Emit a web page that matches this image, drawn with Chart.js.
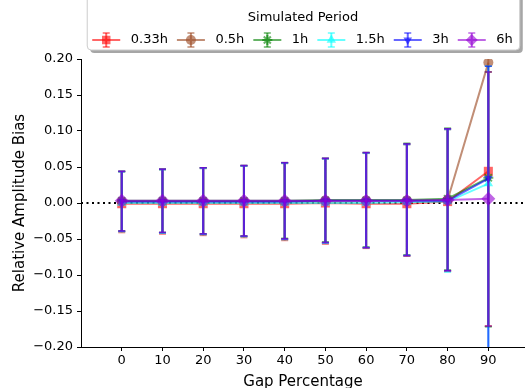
<!DOCTYPE html>
<html>
<head>
<meta charset="utf-8">
<script src="https://cdn.jsdelivr.net/npm/chart.js@4/dist/chart.umd.min.js"></script>
<style>
  html, body { margin: 0; padding: 0; background: #fff; }
</style>
</head>
<body>
<canvas id="chart" width="525" height="388"></canvas>
<script>
const gaps = [0, 10, 20, 30, 40, 50, 60, 70, 80, 90];
const periods = ['0.33h', '0.5h', '1h', '1.5h', '3h', '6h'];
const yTicks = [-0.2, -0.15, -0.1, -0.05, 0, 0.05, 0.1, 0.15, 0.2];

// mean bias per gap percentage
const bias033 = [-0.001, -0.001, -0.001, -0.001, -0.001, 0.000, -0.001, -0.001, 0.002, 0.044];
const bias05  = [0.002, 0.002, 0.002, 0.002, 0.002, 0.003, 0.003, 0.003, 0.004, 0.195];
const bias1   = [0.003, 0.003, 0.003, 0.003, 0.003, 0.004, 0.004, 0.004, 0.006, 0.035];
const bias15  = [0.000, 0.000, 0.000, 0.000, 0.000, 0.000, 0.000, 0.001, 0.002, 0.027];
const bias3   = [0.002, 0.002, 0.002, 0.002, 0.002, 0.003, 0.003, 0.003, 0.003, 0.034];
const bias6   = [0.003, 0.003, 0.003, 0.003, 0.003, 0.003, 0.003, 0.003, 0.004, 0.006];

// error bar ends (lower / upper)
const low033  = [-0.041, -0.043, -0.045, -0.048, -0.052, -0.057, -0.063, -0.074, -0.095, -0.171];
const high033 = [0.043, 0.046, 0.048, 0.051, 0.055, 0.061, 0.069, 0.081, 0.102, 0.182];
const low05   = [-0.039, -0.041, -0.043, -0.046, -0.050, -0.055, -0.062, -0.073, -0.094, -0.171];
const high05  = [0.044, 0.047, 0.049, 0.052, 0.056, 0.062, 0.070, 0.082, 0.103, 0.210];
const low1    = [-0.039, -0.041, -0.043, -0.046, -0.049, -0.054, -0.061, -0.072, -0.093, -0.172];
const high1   = [0.044, 0.047, 0.049, 0.052, 0.056, 0.062, 0.070, 0.083, 0.104, 0.182];
const low15   = [-0.040, -0.042, -0.044, -0.047, -0.051, -0.056, -0.062, -0.073, -0.096, -0.250];
const high15  = [0.043, 0.046, 0.048, 0.051, 0.055, 0.061, 0.069, 0.081, 0.102, 0.190];
const low3    = [-0.039, -0.041, -0.043, -0.046, -0.050, -0.055, -0.062, -0.073, -0.094, -0.260];
const high3   = [0.044, 0.047, 0.049, 0.052, 0.056, 0.062, 0.070, 0.082, 0.103, 0.190];
const low6    = [-0.039, -0.041, -0.043, -0.046, -0.050, -0.055, -0.062, -0.073, -0.094, -0.171];
const high6   = [0.044, 0.047, 0.049, 0.052, 0.056, 0.062, 0.070, 0.082, 0.103, 0.182];

const series = [
    { bias: bias033, low: low033, high: high033 },
    { bias: bias05,  low: low05,  high: high05 },
    { bias: bias1,   low: low1,   high: high1 },
    { bias: bias15,  low: low15,  high: high15 },
    { bias: bias3,   low: low3,   high: high3 },
    { bias: bias6,   low: low6,   high: high6 }
];

const styles = [
    { color: 'rgba(255, 0, 0, 0.6)',     marker: 'rect',     radius: 6.4, rotation: 0,   bw: 0 },
    { color: 'rgba(160, 82, 45, 0.65)',  marker: 'circle',   radius: 5,   rotation: 0,   bw: 0 },
    { color: 'rgba(0, 128, 0, 0.6)',     marker: 'star',     radius: 5,   rotation: 0,   bw: 2 },
    { color: 'rgba(0, 255, 255, 0.6)',   marker: 'triangle', radius: 5.5, rotation: 0,   bw: 0 },
    { color: 'rgba(0, 0, 255, 0.6)',     marker: 'triangle', radius: 5,   rotation: 180, bw: 0 },
    { color: 'rgba(148, 0, 211, 0.6)',   marker: 'rectRot',  radius: 7,   rotation: 0,   bw: 0 }
];

const X_MIN = -10, X_MAX = 99;

Chart.defaults.font.family = '"DejaVu Sans", sans-serif';
Chart.defaults.font.size = 13;
Chart.defaults.color = '#000';

const datasets = [];
series.forEach((s, i) => {
    const st = styles[i];
    const top = (series.length - 1 - i) * 2; // later series drawn above
    datasets.push({
        label: periods[i],
        isSeries: true,
        styleIndex: i,
        data: gaps.map((g, k) => ({ x: g, y: s.bias[k] })),
        borderColor: st.color,
        backgroundColor: st.color,
        borderWidth: 2,
        pointStyle: st.marker,
        pointRadius: st.radius,
        pointRotation: st.rotation,
        pointBorderWidth: st.bw,
        pointBorderColor: st.color,
        pointBackgroundColor: st.color,
        order: top
    });
    datasets.push({
        label: periods[i] + ' err',
        data: gaps.flatMap((g, k) => [{ x: g, y: s.low[k] }, { x: g, y: s.high[k] }, { x: g, y: null }]),
        borderColor: st.color,
        borderWidth: 2,
        spanGaps: false,
        pointStyle: 'line',
        pointRadius: 3.5,
        pointBorderWidth: 1.5,
        pointBorderColor: st.color,
        order: top + 1
    });
});

datasets.push({
    label: 'zero',
    data: [{ x: X_MIN, y: 0 }, { x: X_MAX, y: 0 }],
    borderColor: '#000',
    borderWidth: 2,
    borderDash: [2, 3.5],
    pointRadius: 0,
    order: 100
});

// legend frame with shadow, drawn under the legend text, plus errorbar handles
const legendFrame = {
    id: 'legendFrame',
    beforeDraw(chart) {
        const lg = chart.legend;
        if (!lg || !lg.legendHitBoxes.length) return;
        const hbs = lg.legendHitBoxes;
        const x0 = hbs[0].left - 6;
        const x1 = hbs[hbs.length - 1].left + hbs[hbs.length - 1].width + 7;
        const y0 = -10, y1 = 50;
        const ctx = chart.ctx;
        ctx.save();
        ctx.fillStyle = 'rgba(0, 0, 0, 0.35)';
        ctx.beginPath();
        ctx.roundRect(x0 + 3, y0 + 3, x1 - x0, y1 - y0, 4);
        ctx.fill();
        ctx.fillStyle = '#fff';
        ctx.strokeStyle = '#cccccc';
        ctx.lineWidth = 1;
        ctx.beginPath();
        ctx.roundRect(x0, y0, x1 - x0, y1 - y0, 4);
        ctx.fill();
        ctx.stroke();
        ctx.restore();
    },
    afterDraw(chart) {
        const lg = chart.legend;
        const ctx = chart.ctx;
        lg.legendItems.forEach((item, n) => {
            const hb = lg.legendHitBoxes[n];
            const st = styles[chart.data.datasets[item.datasetIndex].styleIndex];
            const x0 = hb.left - 1;
            const cx = x0 + 14, cy = hb.top + hb.height / 2;
            ctx.save();
            ctx.strokeStyle = st.color;
            ctx.fillStyle = st.color;
            ctx.lineWidth = 2;
            ctx.beginPath();
            ctx.moveTo(x0, cy);
            ctx.lineTo(x0 + 28, cy);
            ctx.moveTo(cx, cy - 7);
            ctx.lineTo(cx, cy + 7);
            ctx.stroke();
            ctx.lineWidth = 1.5;
            ctx.beginPath();
            ctx.moveTo(cx - 3.5, cy - 7);
            ctx.lineTo(cx + 3.5, cy - 7);
            ctx.moveTo(cx - 3.5, cy + 7);
            ctx.lineTo(cx + 3.5, cy + 7);
            ctx.stroke();
            ctx.lineWidth = st.bw;
            Chart.helpers.drawPoint(ctx, {
                pointStyle: st.marker,
                radius: Math.min(st.radius, 6),
                rotation: st.rotation,
                borderWidth: st.bw
            }, cx, cy);
            ctx.restore();
        });
    }
};

new Chart(document.getElementById('chart'), {
    type: 'line',
    data: { datasets },
    options: {
        responsive: false,
        animation: false,
        events: [],
        layout: { autoPadding: false, padding: { top: 1, left: 0, right: 0, bottom: 0 } },
        plugins: {
            tooltip: { enabled: false },
            legend: {
                position: 'top',
                fullSize: false,
                title: {
                    display: true,
                    text: 'Simulated Period',
                    font: { size: 13, lineHeight: 1 },
                    padding: { top: 10.5, bottom: -3.5 }
                },
                labels: {
                    boxWidth: 31,
                    boxHeight: 18,
                    padding: 10,
                    font: { size: 13 },
                    filter: (item, data) => !!data.datasets[item.datasetIndex].isSeries,
                    sort: (a, b) => a.datasetIndex - b.datasetIndex,
                    generateLabels: chart => Chart.defaults.plugins.legend.labels.generateLabels(chart)
                        .map(l => Object.assign(l, {
                            fillStyle: 'rgba(0,0,0,0)',
                            strokeStyle: 'rgba(0,0,0,0)',
                            lineWidth: 0
                        }))
                }
            }
        },
        scales: {
            x: {
                type: 'linear',
                min: X_MIN,
                max: X_MAX,
                afterBuildTicks: s => { s.ticks = gaps.map(v => ({ value: v })); },
                afterFit: s => { s.height = 41; s.paddingLeft = 0; s.paddingRight = 0; },
                grid: { drawOnChartArea: false, tickLength: 4, color: '#000' },
                border: { color: '#000', width: 1 },
                ticks: { padding: 2, maxRotation: 0, font: { size: 13 } },
                title: {
                    display: true,
                    text: 'Gap Percentage',
                    font: { size: 15 },
                    padding: { top: 0, bottom: -3 }
                }
            },
            y: {
                min: -0.2,
                max: 0.2,
                afterBuildTicks: s => { s.ticks = yTicks.map(v => ({ value: v })); },
                afterFit: s => { s.width = 81; },
                grid: { drawOnChartArea: false, tickLength: 4, color: '#000' },
                border: { color: '#000', width: 1 },
                ticks: {
                    padding: 4,
                    font: { size: 13 },
                    callback: v => (v < 0 ? '\u2212' : '') + Math.abs(v).toFixed(2)
                },
                title: {
                    display: true,
                    text: 'Relative Amplitude Bias',
                    font: { size: 15 },
                    padding: { top: 11, bottom: 0 }
                }
            }
        }
    },
    plugins: [legendFrame]
});
</script>
</body>
</html>
